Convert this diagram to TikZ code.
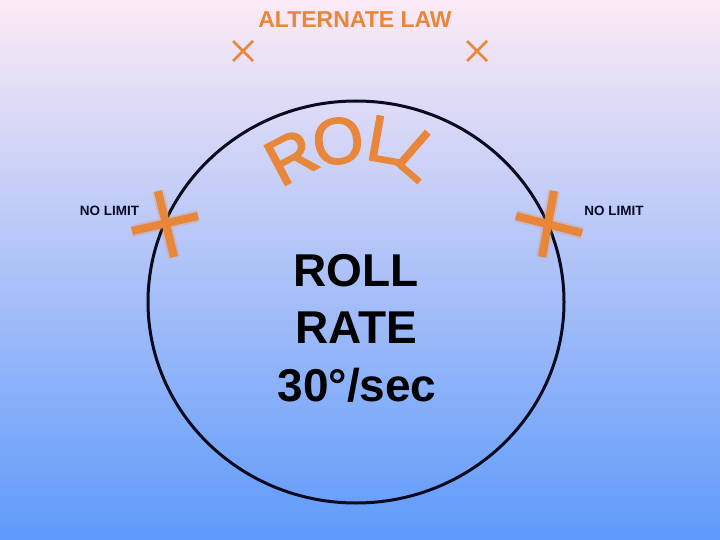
\documentclass[tikz,border=0pt]{standalone}
\usepackage{fontspec}
\setmainfont{Liberation Sans}
\newfontface\arcface{Liberation Sans}[FakeBold=2.5]
\usetikzlibrary{shapes.geometric}
\definecolor{bgtop}{RGB}{252,234,246}
\definecolor{bgmid}{RGB}{180,198,248}
\definecolor{bgbot}{RGB}{94,154,250}
\definecolor{orng}{RGB}{232,135,58}
\definecolor{navy}{RGB}{10,10,30}
\tikzset{
  bigx/.style={line width=8pt, draw=orng},
  bigglow/.style={line width=12pt, draw=orng, opacity=0.25},
  smallx/.style={line width=2.5pt, draw=orng},
  arcl/.style={text=orng, inner sep=0pt, font=\arcface\fontsize{65}{65}\selectfont},
  mainl/.style={text=black, inner sep=0pt, anchor=base, font=\bfseries\fontsize{46}{46}\selectfont},
  nolim/.style={text=navy, inner sep=0pt, font=\bfseries\fontsize{13.5}{13.5}\selectfont}
}
\begin{document}
\begin{tikzpicture}[x=1pt,y=-1pt]
\useasboundingbox (0,0) rectangle (720,540);
\shade[top color=bgtop, middle color=bgmid, bottom color=bgbot] (0,0) rectangle (720,540);
% circle
\node[draw=navy, line width=3pt, ellipse, minimum width=416pt, minimum height=402pt, inner sep=0pt] (ring) at (356,302) {};
% title
\node[text=orng, inner sep=0pt, font=\bfseries\fontsize{23}{23}\selectfont] (title) at (355,19.5) {ALTERNATE LAW};
% small crosses
\coordinate (sx1) at (243,51);
\coordinate (sx2) at (477,51);
\draw[smallx] ([shift={(-10,-10)}]sx1) -- ([shift={(10,10)}]sx1) ([shift={(-10,10)}]sx1) -- ([shift={(10,-10)}]sx1);
\draw[smallx] ([shift={(-10,-10)}]sx2) -- ([shift={(10,10)}]sx2) ([shift={(-10,10)}]sx2) -- ([shift={(10,-10)}]sx2);
% big crosses
\foreach \s in {bigglow,bigx}{
\draw[\s] (158,191) -- (174,257) (132,231) -- (198,216);
\draw[\s] (554,191) -- (542,257) (516,216) -- (582,233);
}
% no limit
\node[nolim] (nl1) at (109.5,211) {NO LIMIT};
\node[nolim] (nl2) at (614,211) {NO LIMIT};
% arc letters
\node[arcl, rotate=28] (r1) at (291,157) {R};
\node[arcl, rotate=9] (o1) at (338,141) {O};
\node[arcl, rotate=-10] (l1) at (386,140) {L};
\node[arcl, rotate=-41] (l2) at (420,156) {L};
% main text
\node[mainl] (m1) at (356,286) {ROLL};
\node[mainl] (m2) at (356,343) {RATE};
\node[mainl] (m3) at (357,401) {30°/sec};
\end{tikzpicture}
\end{document}
